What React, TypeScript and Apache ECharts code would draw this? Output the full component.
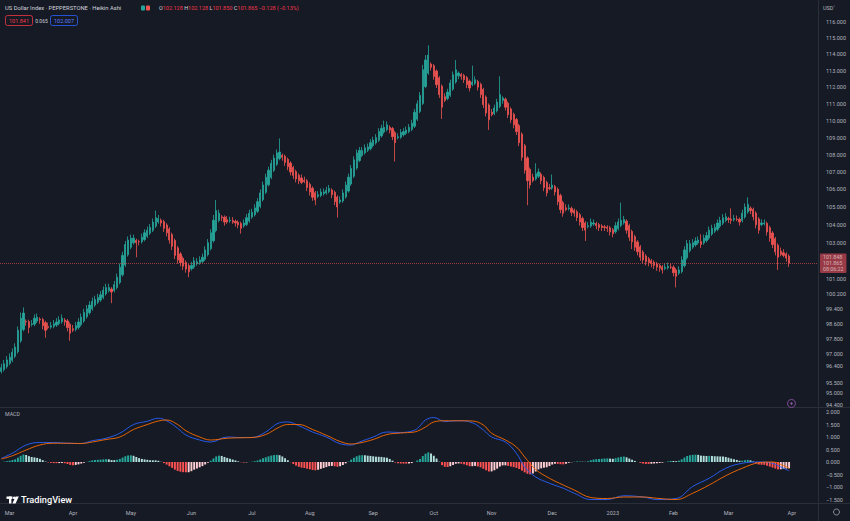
import React, { useEffect, useRef } from "react";
import * as echarts from "echarts";

// ---------- data ----------
const START = [2022, 1, 24]; // first bar: 24 Feb 2022 (UTC y, m0, d)
const FUTURE_SLOTS = 10; // empty weekday slots right of the last bar
const FIRST_OPEN = 96.1;

// Heikin Ashi close, one per trading day (24 Feb 2022 .. 31 Mar 2023)
const haClose = [
  96.3, 96.5, 96.7, 96.84, 97.1, 97.37, 98.26, 98.9, 99.17, 98.7,
  98.4, 98.6, 98.9, 98.95, 98.8, 98.5, 98.26, 98.4, 98.5, 98.6,
  98.7, 98.8, 98.9, 98.7, 98.4, 98.1, 98.26, 98.5, 98.7, 98.95,
  99.2, 99.4, 99.6, 99.8, 99.9, 100.0, 100.15, 100.4, 100.55, 100.55,
  100.3, 100.7, 101.1, 101.65, 102.3, 102.9, 103.15, 103.25, 103.25, 103.0,
  103.05, 103.3, 103.55, 103.7, 103.85, 104.15, 104.4, 104.35, 104.1, 103.8,
  103.55, 103.15, 102.8, 102.3, 102.05, 101.9, 101.7, 101.55, 101.4, 101.75,
  102.0, 101.95, 102.05, 102.2, 102.6, 103.0, 103.55, 104.25, 104.8, 104.65,
  104.4, 104.15, 104.15, 104.25, 104.15, 104.1, 104.0, 103.8, 104.1, 104.4,
  104.65, 104.7, 104.95, 105.3, 105.8, 106.25, 106.7, 107.1, 107.5, 107.8,
  108.1, 108.15, 107.85, 107.55, 107.3, 107.0, 106.8, 106.6, 106.5, 106.4,
  106.45, 106.1, 105.85, 105.55, 105.4, 105.7, 105.85, 105.85, 105.95, 106.05,
  105.7, 105.3, 105.0, 105.4, 105.8, 106.25, 106.7, 107.2, 107.7, 108.1,
  108.25, 108.25, 108.4, 108.45, 108.7, 108.85, 109.0, 109.35, 109.55, 109.6,
  109.75, 109.45, 109.05, 108.7, 109.05, 109.3, 109.35, 109.45, 109.6, 109.85,
  110.5, 111.0, 111.5, 113.05, 113.65, 113.95, 113.2, 112.65, 112.15, 111.55,
  110.8, 111.2, 111.7, 112.25, 112.75, 113.05, 112.85, 112.65, 112.45, 112.15,
  111.95, 112.3, 112.45, 112.0, 111.55, 110.95, 110.45, 110.05, 110.35, 110.75,
  111.1, 111.55, 111.35, 110.8, 110.35, 110.05, 109.75, 109.35, 108.7, 107.85,
  107.1, 106.5, 106.25, 106.5, 106.9, 107.0, 106.5, 106.1, 105.8, 106.05,
  106.25, 105.85, 105.3, 104.85, 104.65, 104.85, 104.95, 104.7, 104.65, 104.4,
  104.15, 103.85, 103.7, 103.95, 104.15, 104.1, 103.95, 103.85, 103.85, 103.85,
  103.8, 103.6, 103.5, 103.95, 104.15, 104.25, 104.3, 103.7, 103.3, 103.05,
  102.75, 102.5, 102.2, 102.05, 101.95, 101.9, 101.85, 101.75, 101.65, 101.6,
  101.5, 101.65, 101.7, 101.65, 101.35, 101.15, 101.5, 102.05, 102.6, 102.95,
  102.95, 103.0, 103.1, 103.15, 102.9, 103.25, 103.4, 103.7, 103.8, 103.85,
  104.1, 104.25, 104.4, 104.45, 104.3, 104.25, 104.35, 104.3, 104.15, 104.65,
  105.0, 105.15, 104.8, 104.45, 104.0, 103.7, 104.1, 104.1, 103.6, 103.25,
  102.9, 102.5, 102.2, 102.35, 102.3, 102.15, 101.865,
];

// upper wick above the body, lower wick below the body (price units)
const wickUp = [
  0.2, 0.2, 0.2, 0.2, 0.2, 0.2, 0.2, 0.3, 0.3, 0.1,
  0.1, 0.2, 0.2, 0.2, 0.1, 0.1, 0.1, 0.2, 0.2, 0.2,
  0.2, 0.2, 0.2, 0.1, 0.1, 0.1, 0.2, 0.2, 0.2, 0.2,
  0.2, 0.2, 0.2, 0.2, 0.2, 0.2, 0.2, 0.2, 0.2, 0.2,
  0.1, 0.2, 0.2, 0.2, 0.2, 0.2, 0.2, 0.2, 0.2, 0.1,
  0.1, 0.2, 0.2, 0.2, 0.2, 0.2, 0.4, 0.2, 0.1, 0.1,
  0.1, 0.1, 0.1, 0.1, 0.1, 0.1, 0.1, 0.1, 0.1, 0.2,
  0.2, 0.2, 0.2, 0.2, 0.2, 0.2, 0.2, 0.3, 0.6, 0.2,
  0.1, 0.1, 0.2, 0.2, 0.2, 0.1, 0.1, 0.1, 0.2, 0.2,
  0.2, 0.2, 0.2, 0.2, 0.2, 0.2, 0.2, 0.2, 0.2, 0.2,
  0.2, 0.8, 0.1, 0.1, 0.1, 0.1, 0.1, 0.1, 0.1, 0.2,
  0.2, 0.1, 0.1, 0.1, 0.1, 0.2, 0.2, 0.2, 0.2, 0.2,
  0.1, 0.1, 0.1, 0.2, 0.2, 0.2, 0.2, 0.2, 0.2, 0.2,
  0.2, 0.2, 0.2, 0.2, 0.2, 0.2, 0.2, 0.2, 0.2, 0.4,
  0.2, 0.1, 0.1, 0.1, 0.2, 0.2, 0.2, 0.2, 0.2, 0.2,
  0.2, 0.2, 0.2, 0.3, 0.3, 0.6, 0.1, 0.1, 0.1, 0.1,
  0.1, 0.2, 0.2, 0.2, 0.2, 0.6, 0.1, 0.1, 0.1, 0.1,
  0.1, 1.0, 0.2, 0.1, 0.1, 0.1, 0.1, 0.1, 0.2, 0.2,
  0.2, 1.1, 0.1, 0.1, 0.1, 0.1, 0.1, 0.1, 0.1, 0.1,
  0.1, 0.1, 0.1, 0.2, 0.6, 0.2, 0.1, 0.1, 0.1, 0.2,
  0.6, 0.1, 0.1, 0.1, 0.1, 0.2, 0.2, 0.1, 0.1, 0.1,
  0.1, 0.1, 0.1, 0.2, 0.2, 0.2, 0.1, 0.1, 0.1, 0.1,
  0.1, 0.1, 0.1, 0.2, 0.2, 1.0, 0.2, 0.1, 0.1, 0.1,
  0.1, 0.1, 0.1, 0.1, 0.1, 0.1, 0.1, 0.1, 0.1, 0.1,
  0.1, 0.2, 0.2, 0.2, 0.1, 0.1, 0.2, 0.2, 0.2, 0.2,
  0.2, 0.2, 0.2, 0.2, 0.4, 0.2, 0.2, 0.2, 0.2, 0.2,
  0.2, 0.2, 0.2, 0.2, 0.1, 0.6, 0.2, 0.2, 0.1, 0.2,
  0.2, 0.4, 0.1, 0.1, 0.1, 0.1, 0.2, 0.2, 0.1, 0.1,
  0.1, 0.1, 0.1, 0.2, 0.2, 0.1, 0.1,
];
const wickDn = [
  0.1, 0.1, 0.1, 0.1, 0.1, 0.1, 0.1, 0.1, 0.1, 0.2,
  0.3, 0.1, 0.1, 0.1, 0.2, 0.2, 0.4, 0.1, 0.1, 0.1,
  0.1, 0.1, 0.1, 0.2, 0.2, 0.4, 0.1, 0.1, 0.1, 0.1,
  0.1, 0.1, 0.1, 0.1, 0.1, 0.1, 0.1, 0.1, 0.1, 0.1,
  0.6, 0.1, 0.1, 0.1, 0.1, 0.1, 0.1, 0.1, 0.1, 0.8,
  0.2, 0.1, 0.1, 0.1, 0.1, 0.1, 0.1, 0.1, 0.2, 0.2,
  0.2, 0.2, 0.2, 0.2, 0.2, 0.2, 0.2, 0.2, 0.3, 0.1,
  0.1, 0.1, 0.1, 0.1, 0.1, 0.1, 0.1, 0.1, 0.1, 0.1,
  0.2, 0.2, 0.1, 0.1, 0.1, 0.2, 0.2, 0.3, 0.1, 0.1,
  0.1, 0.1, 0.1, 0.1, 0.1, 0.1, 0.1, 0.1, 0.1, 0.1,
  0.1, 0.1, 0.2, 0.2, 0.2, 0.2, 0.2, 0.2, 0.2, 0.1,
  0.1, 0.2, 0.2, 0.2, 0.3, 0.1, 0.1, 0.1, 0.1, 0.1,
  0.2, 0.2, 0.6, 0.1, 0.1, 0.1, 0.1, 0.1, 0.1, 0.1,
  0.1, 0.1, 0.1, 0.1, 0.1, 0.1, 0.1, 0.1, 0.1, 0.1,
  0.1, 0.2, 0.2, 1.1, 0.1, 0.1, 0.1, 0.1, 0.1, 0.1,
  0.1, 0.1, 0.1, 0.1, 0.1, 0.1, 0.2, 0.2, 0.2, 0.2,
  0.7, 0.1, 0.1, 0.1, 0.1, 0.1, 0.2, 0.2, 0.2, 0.2,
  0.2, 0.1, 0.1, 0.2, 0.2, 0.2, 0.2, 0.6, 0.1, 0.1,
  0.1, 0.1, 0.2, 0.2, 0.2, 0.2, 0.2, 0.2, 0.2, 0.2,
  0.2, 1.4, 0.2, 0.1, 0.1, 0.1, 0.2, 0.2, 0.2, 0.1,
  0.1, 0.2, 0.2, 0.2, 0.2, 0.1, 0.1, 0.2, 0.2, 0.2,
  0.2, 0.2, 0.6, 0.1, 0.1, 0.1, 0.2, 0.2, 0.2, 0.2,
  0.2, 0.2, 0.2, 0.1, 0.1, 0.1, 0.1, 0.2, 0.2, 0.4,
  0.2, 0.2, 0.2, 0.2, 0.2, 0.2, 0.2, 0.2, 0.2, 0.2,
  0.2, 0.1, 0.1, 0.1, 0.2, 0.6, 0.1, 0.1, 0.1, 0.1,
  0.1, 0.1, 0.1, 0.1, 0.2, 0.1, 0.1, 0.1, 0.1, 0.1,
  0.1, 0.1, 0.1, 0.1, 0.2, 0.2, 0.1, 0.1, 0.2, 0.1,
  0.1, 0.1, 0.2, 0.2, 0.2, 0.2, 0.1, 0.1, 0.2, 0.2,
  0.2, 0.2, 0.7, 0.1, 0.1, 0.2, 0.2,
];

// MACD / signal lines read from the lower pane at roughly weekly bar positions
const macdBar = [
  0, 4, 9, 14, 19, 24, 29, 33, 38, 43, 48, 53, 57, 60, 64, 67, 72, 76, 82, 87,
  91, 96, 101, 104, 108, 113, 118, 123, 127, 130, 135, 140, 145, 150, 152, 154, 157, 161, 166, 171,
  175, 178, 183, 187, 190, 194, 199, 204, 208, 214, 220, 226, 233, 238, 245, 251, 257, 263, 269, 275,
  280, 283, 286,
];
const macdLine = [
  0.15, 0.35, 0.68, 0.78, 0.78, 0.75, 0.74, 0.85, 0.95, 1.15, 1.5, 1.63, 1.75, 1.65, 1.35, 1.08, 0.88, 0.8, 1.0, 0.98,
  0.98, 1.2, 1.57, 1.6, 1.45, 1.2, 1.0, 0.73, 0.68, 0.8, 1.0, 1.2, 1.18, 1.27, 1.45, 1.68, 1.78, 1.62, 1.65, 1.57,
  1.28, 1.0, 0.8, 0.35, -0.2, -0.6, -0.85, -1.05, -1.25, -1.5, -1.5, -1.35, -1.4, -1.5, -1.46, -0.98, -0.65, -0.25, -0.05, 0.0,
  -0.05, -0.2, -0.35,
];
const signalLine = [
  0.12, 0.25, 0.48, 0.68, 0.75, 0.75, 0.74, 0.8, 0.9, 1.0, 1.3, 1.5, 1.64, 1.68, 1.5, 1.25, 1.0, 0.88, 0.95, 0.97,
  0.98, 1.1, 1.4, 1.5, 1.5, 1.3, 1.07, 0.82, 0.72, 0.76, 0.9, 1.1, 1.16, 1.2, 1.28, 1.4, 1.6, 1.65, 1.65, 1.64,
  1.48, 1.15, 0.88, 0.6, 0.2, -0.3, -0.65, -0.92, -1.12, -1.42, -1.46, -1.4, -1.4, -1.45, -1.5, -1.25, -0.92, -0.55, -0.25, -0.03,
  0.0, -0.1, -0.25,
];

// axis tick labels as shown on the right-hand scales
const priceTicks = [116, 115, 114, 113, 112, 111, 110, 109, 108, 107, 106, 105, 104, 103, 101, 100.2, 99.4, 98.6, 97.8, 97, 96.4, 95.5, 95, 94.4];
const macdTicks = [2, 1.5, 1, 0.5, 0, -0.5, -1, -1.5];
const monthNames = ["Jan", "Feb", "Mar", "Apr", "May", "Jun", "Jul", "Aug", "Sep", "Oct", "Nov", "Dec"];

const PRICE_MIN = 94.28;
const PRICE_MAX = 117.38;
const MACD_MIN = -1.64;
const MACD_MAX = 2.16;

const headerTitle = "US Dollar Index · PEPPERSTONE · Heikin Ashi";
const ohlcText = { o: "102.128", h: "102.128", l: "101.850", c: "101.865", chg: "\u22120.128 (\u22120.13%)" };
const tradeBox = { sell: "101.841", spread: "0.065", buy: "102.007" };
const priceTag = ["101.848", "101.865", "08:06:22"];

// ---------- styling ----------
const BG = "#161a25";
const UP = "#26a69a";
const DOWN = "#ef5350";
const TXT = "#b2b5be";
const SEP = "#2a2e39";
const FONT = "Roboto, 'Noto Sans', sans-serif";

function buildCategories(n: number): string[] {
  const out: string[] = [];
  const d = new Date(Date.UTC(START[0], START[1], START[2]));
  while (out.length < n) {
    const wd = d.getUTCDay();
    if (wd !== 0 && wd !== 6) out.push(d.toISOString().slice(0, 10));
    d.setUTCDate(d.getUTCDate() + 1);
  }
  return out;
}

function ema(arr: number[], n: number): number[] {
  const k = 2 / (n + 1);
  let e = arr[0];
  return arr.map((v, i) => (e = i === 0 ? v : v * k + e * (1 - k)));
}

export default function App() {
  const ref = useRef<HTMLDivElement>(null);

  useEffect(() => {
    if (!ref.current) return;
    const chart = echarts.init(ref.current, null, { renderer: "svg" });

    const categories = buildCategories(haClose.length + FUTURE_SLOTS);

    // Heikin Ashi candles
    const candles: number[][] = [];
    let prevO = FIRST_OPEN;
    let prevC = haClose[0];
    haClose.forEach((c, i) => {
      const o = i === 0 ? FIRST_OPEN : (prevO + prevC) / 2;
      const hi = Math.max(o, c) + wickUp[i];
      const lo = Math.min(o, c) - wickDn[i];
      candles.push([Math.log(o), Math.log(c), Math.log(lo), Math.log(hi)]);
      prevO = o;
      prevC = c;
    });

    // MACD histogram (12, 26, 9) on the Heikin Ashi closes
    const e12 = ema(haClose, 12);
    const e26 = ema(haClose, 26);
    const macdCalc = e12.map((v, i) => v - e26[i]);
    const sigCalc = ema(macdCalc, 9);
    const hist = macdCalc.map((v, i) => v - sigCalc[i]);
    const histData = hist.map((v, i) => {
      const prev = i > 0 ? hist[i - 1] : 0;
      let color;
      if (v >= 0) color = v > prev ? "#26a69a" : "#b2dfdb";
      else color = v > prev ? "#ffcdd2" : "#ff5252";
      return { value: v, itemStyle: { color } };
    });

    const isMonthStart = (idx: number) =>
      idx > 0 && categories[idx].slice(5, 7) !== categories[idx - 1].slice(5, 7);

    const lastClose = haClose[haClose.length - 1];

    const option: any = {
      animation: false,
      backgroundColor: BG,
      textStyle: { fontFamily: FONT },
      grid: [
        { left: 0, top: 0, width: 818, height: 407 },
        { left: 0, top: 408, width: 818, height: 95 },
      ],
      xAxis: [
        {
          type: "category",
          gridIndex: 0,
          data: categories,
          axisLine: { show: false },
          axisTick: { show: false },
          axisLabel: { show: false },
          splitLine: { show: false },
        },
        {
          type: "category",
          gridIndex: 1,
          data: categories,
          axisLine: { show: false },
          axisTick: { show: false },
          splitLine: { show: false },
          axisLabel: {
            interval: (idx: number) => isMonthStart(idx),
            formatter: (v: string) => {
              const m = parseInt(v.slice(5, 7), 10) - 1;
              return m === 0 ? v.slice(0, 4) : monthNames[m];
            },
            color: TXT,
            fontSize: 5.5,
            margin: 7,
          },
        },
      ],
      yAxis: [
        {
          type: "value",
          gridIndex: 0,
          position: "right",
          min: Math.log(PRICE_MIN),
          max: Math.log(PRICE_MAX),
          axisLine: { show: false },
          axisTick: { show: false },
          splitLine: { show: false },
          axisLabel: {
            customValues: priceTicks.map((p) => Math.log(p)),
            formatter: (v: number) => Math.exp(v).toFixed(3),
            color: TXT,
            fontSize: 5.5,
            margin: 8,
            align: "left",
          },
        },
        {
          type: "value",
          gridIndex: 1,
          position: "right",
          min: MACD_MIN,
          max: MACD_MAX,
          axisLine: { show: false },
          axisTick: { show: false },
          splitLine: { show: false },
          axisLabel: {
            customValues: macdTicks,
            formatter: (v: number) => (v < 0 ? "\u2212" : "") + Math.abs(v).toFixed(3),
            color: TXT,
            fontSize: 5.5,
            margin: 8,
            align: "left",
          },
        },
      ],
      series: [
        {
          type: "candlestick",
          xAxisIndex: 0,
          yAxisIndex: 0,
          data: candles,
          barWidth: "62%",
          itemStyle: {
            color: UP,
            color0: DOWN,
            borderColor: UP,
            borderColor0: DOWN,
            borderWidth: 0.8,
          },
          markLine: {
            silent: true,
            precision: 10,
            symbol: ["none", "none"],
            data: [{ yAxis: Math.log(lastClose) }],
            lineStyle: { color: DOWN, type: "dotted", width: 1, opacity: 0.6 },
            label: {
              show: true,
              position: "end",
              distance: 2,
              formatter: priceTag.join("\n"),
              backgroundColor: "#f0525d",
              color: "#ffffff",
              fontSize: 5.3,
              lineHeight: 5.8,
              padding: [1, 3, 1, 3],
              borderRadius: 1,
            },
          },
        },
        {
          type: "bar",
          xAxisIndex: 1,
          yAxisIndex: 1,
          data: histData,
          barWidth: "70%",
        },
        {
          type: "line",
          xAxisIndex: 1,
          yAxisIndex: 1,
          data: macdBar.map((b, k) => [b, macdLine[k]]),
          smooth: 0.4,
          showSymbol: false,
          lineStyle: { color: "#2962ff", width: 0.9 },
          itemStyle: { color: "#2962ff" },
        },
        {
          type: "line",
          xAxisIndex: 1,
          yAxisIndex: 1,
          data: macdBar.map((b, k) => [b, signalLine[k]]),
          smooth: 0.4,
          showSymbol: false,
          lineStyle: { color: "#ff6d00", width: 0.9 },
          itemStyle: { color: "#ff6d00" },
        },
      ],
      graphic: [
        // pane separators
        { type: "line", shape: { x1: 0, y1: 407.5, x2: 850, y2: 407.5 }, style: { stroke: SEP, lineWidth: 1 }, silent: true },
        { type: "line", shape: { x1: 0, y1: 503.5, x2: 850, y2: 503.5 }, style: { stroke: SEP, lineWidth: 1 }, silent: true },
        { type: "line", shape: { x1: 818.5, y1: 0, x2: 818.5, y2: 521 }, style: { stroke: SEP, lineWidth: 1 }, silent: true },
        // header
        {
          type: "text",
          x: 5,
          y: 4.5,
          style: { text: headerTitle, fill: "#d1d4dc", fontSize: 5.8, fontFamily: FONT },
        },
        { type: "rect", shape: { x: 141, y: 5.5, width: 4, height: 5, r: 1 }, style: { fill: UP } },
        { type: "rect", shape: { x: 146, y: 5.5, width: 4, height: 5, r: 1 }, style: { fill: DOWN } },
        {
          type: "text",
          x: 159,
          y: 4.5,
          style: {
            text:
              `{k|O}{v|${ohlcText.o}} {k|H}{v|${ohlcText.h}} {k|L}{v|${ohlcText.l}} {k|C}{v|${ohlcText.c}} {v|${ohlcText.chg}}`,
            fontSize: 5.5,
            fontFamily: FONT,
            rich: {
              k: { fill: "#d1d4dc", fontSize: 5.5, fontFamily: FONT },
              v: { fill: "#f23645", fontSize: 5.5, fontFamily: FONT },
            },
          },
        },
        { type: "rect", shape: { x: 5.5, y: 15.5, width: 27, height: 10, r: 2 }, style: { fill: "none", stroke: "#f23645", lineWidth: 0.8 } },
        {
          type: "text",
          x: 19,
          y: 20.5,
          style: { text: tradeBox.sell, fill: "#f23645", fontSize: 5.5, fontFamily: FONT, align: "center", verticalAlign: "middle" },
        },
        {
          type: "text",
          x: 41.5,
          y: 20.5,
          style: { text: tradeBox.spread, fill: "#d1d4dc", fontSize: 5, fontFamily: FONT, align: "center", verticalAlign: "middle" },
        },
        { type: "rect", shape: { x: 50.5, y: 15.5, width: 27, height: 10, r: 2 }, style: { fill: "none", stroke: "#2962ff", lineWidth: 0.8 } },
        {
          type: "text",
          x: 64,
          y: 20.5,
          style: { text: tradeBox.buy, fill: "#5b7cff", fontSize: 5.5, fontFamily: FONT, align: "center", verticalAlign: "middle" },
        },
        // currency label on price scale
        {
          type: "text",
          x: 823,
          y: 5,
          style: { text: "USD\u02C5", fill: TXT, fontSize: 5.5, fontFamily: FONT },
        },
        // MACD pane title
        {
          type: "text",
          x: 5,
          y: 411,
          style: { text: "MACD", fill: TXT, fontSize: 5.3, fontFamily: FONT },
        },
        // small event marker
        { type: "circle", shape: { cx: 791.5, cy: 403.5, r: 4 }, style: { fill: "none", stroke: "#9b59b6", lineWidth: 0.8 } },
        { type: "circle", shape: { cx: 791.5, cy: 403.5, r: 1.2 }, style: { fill: "#9b59b6" } },
        // settings gear
        { type: "circle", shape: { cx: 836.5, cy: 512, r: 3 }, style: { fill: "none", stroke: "#9598a1", lineWidth: 0.9 } },
        // TradingView logo
        { type: "rect", shape: { x: 6.5, y: 496.5, width: 6, height: 2.4 }, style: { fill: "#ffffff" } },
        { type: "rect", shape: { x: 9, y: 496.5, width: 2.4, height: 7 }, style: { fill: "#ffffff" } },
        { type: "circle", shape: { cx: 14.2, cy: 497.8, r: 1.3 }, style: { fill: "#ffffff" } },
        { type: "polygon", shape: { points: [[15.6, 496.5], [18.8, 496.5], [15.6, 503.5], [12.4, 503.5]] }, style: { fill: "#ffffff" } },
        {
          type: "text",
          x: 21,
          y: 495,
          style: { text: "TradingView", fill: "#ffffff", fontSize: 9.2, fontFamily: FONT, fontWeight: 500 },
        },
      ],
    };

    chart.setOption(option);
    return () => chart.dispose();
  }, []);

  return (
    <div
      ref={ref}
      style={{ position: "fixed", left: 0, top: 0, width: 850, height: 521, background: BG }}
    />
  );
}
